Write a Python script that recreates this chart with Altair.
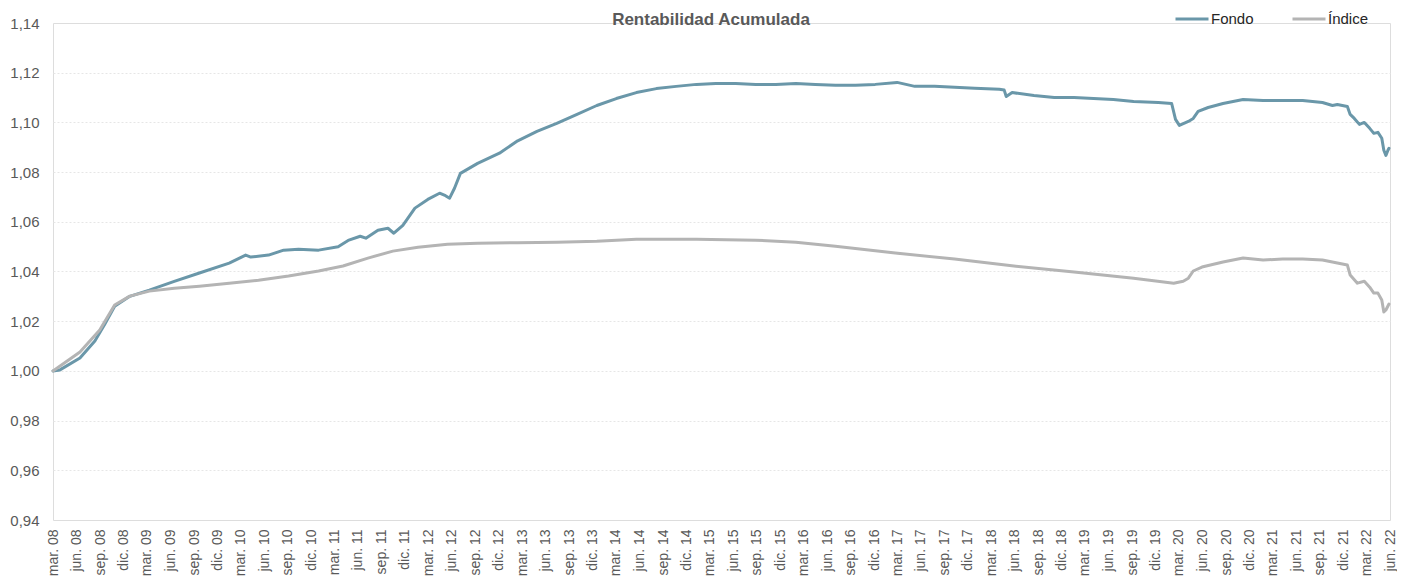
import altair as alt
import pandas as pd

# ---- data ----
fondo_dates = [
    "2008-03-01", "2008-03-28", "2008-06-14", "2008-08-11", "2008-09-19", "2008-10-27",
    "2008-12-25", "2009-03-11", "2009-06-16", "2009-09-22", "2010-01-16", "2010-03-21",
    "2010-04-10", "2010-06-18", "2010-08-16", "2010-10-13", "2010-12-30", "2011-03-16",
    "2011-04-24", "2011-06-10", "2011-07-02", "2011-08-18", "2011-09-26", "2011-10-19",
    "2011-11-23", "2012-01-09", "2012-02-28", "2012-04-14", "2012-05-07", "2012-05-23",
    "2012-06-11", "2012-07-04", "2012-09-09", "2012-12-03", "2013-02-12", "2013-04-28",
    "2013-07-14", "2013-10-01", "2013-12-17", "2014-03-03", "2014-05-20", "2014-08-06",
    "2014-10-22", "2015-01-09", "2015-03-25", "2015-06-11", "2015-08-28", "2015-11-14",
    "2016-01-31", "2016-04-16", "2016-07-03", "2016-09-19", "2016-12-05", "2017-02-28",
    "2017-05-08", "2017-07-24", "2017-10-10", "2017-12-27", "2018-04-02", "2018-04-21",
    "2018-04-29", "2018-05-22", "2018-08-15", "2018-11-02", "2019-01-18", "2019-04-04",
    "2019-06-20", "2019-09-07", "2019-12-12", "2020-02-02", "2020-02-17", "2020-03-03",
    "2020-04-07", "2020-04-26", "2020-05-15", "2020-06-23", "2020-08-20", "2020-11-06",
    "2021-01-23", "2021-04-09", "2021-06-26", "2021-09-11", "2021-10-20", "2021-11-08",
    "2021-12-17", "2021-12-28", "2022-01-13", "2022-02-02", "2022-02-21", "2022-03-14",
    "2022-03-30", "2022-04-15", "2022-04-30", "2022-05-08", "2022-05-16", "2022-05-24",
    "2022-05-28",
]
fondo_values = [
    1.0000, 1.0004, 1.0052, 1.0120, 1.0189, 1.0260,
    1.0300, 1.0325, 1.0360, 1.0394, 1.0434, 1.0466,
    1.0458, 1.0466, 1.0486, 1.0490, 1.0486, 1.0500,
    1.0525, 1.0542, 1.0534, 1.0566, 1.0574, 1.0554,
    1.0586, 1.0655, 1.0690, 1.0715, 1.0705, 1.0695,
    1.0735, 1.0795, 1.0835, 1.0876, 1.0926, 1.0964,
    1.0996, 1.1032, 1.1068, 1.1096, 1.1120, 1.1136,
    1.1145, 1.1153, 1.1157, 1.1157, 1.1153, 1.1153,
    1.1157, 1.1153, 1.1149, 1.1149, 1.1153, 1.1161,
    1.1145, 1.1145, 1.1141, 1.1137, 1.1133, 1.1130,
    1.1104, 1.1120, 1.1108, 1.1100, 1.1100, 1.1096,
    1.1092, 1.1084, 1.1080, 1.1076, 1.1012, 1.0988,
    1.1004, 1.1016, 1.1044, 1.1060, 1.1076, 1.1092,
    1.1088, 1.1088, 1.1088, 1.1080, 1.1068, 1.1072,
    1.1064, 1.1032, 1.1016, 1.0992, 1.1000, 1.0976,
    1.0956, 1.0960, 1.0936, 1.0888, 1.0867, 1.0888,
    1.0896,
]

indice_dates = [
    "2008-03-01", "2008-06-14", "2008-08-30", "2008-10-27", "2008-12-25", "2009-03-11",
    "2009-06-16", "2009-09-22", "2010-01-16", "2010-05-10", "2010-09-04", "2010-12-30",
    "2011-04-04", "2011-07-10", "2011-10-15", "2012-01-21", "2012-05-15", "2012-09-09",
    "2013-02-12", "2013-07-14", "2013-12-17", "2014-05-20", "2015-01-09", "2015-08-28",
    "2016-01-31", "2016-07-03", "2017-02-21", "2017-10-10", "2018-05-29", "2019-01-18",
    "2019-09-07", "2020-02-10", "2020-03-18", "2020-04-07", "2020-04-26", "2020-05-30",
    "2020-08-20", "2020-11-06", "2021-01-23", "2021-04-09", "2021-06-26", "2021-09-11",
    "2021-11-08", "2021-12-17", "2021-12-28", "2022-01-25", "2022-02-21", "2022-03-14",
    "2022-03-30", "2022-04-15", "2022-04-30", "2022-05-08", "2022-05-16", "2022-05-24",
    "2022-05-28",
]
indice_values = [
    1.0000, 1.0076, 1.0165, 1.0265, 1.0301, 1.0321,
    1.0333, 1.0341, 1.0353, 1.0365, 1.0382, 1.0402,
    1.0422, 1.0454, 1.0482, 1.0498, 1.0510, 1.0514,
    1.0516, 1.0518, 1.0522, 1.0530, 1.0530, 1.0526,
    1.0518, 1.0502, 1.0474, 1.0450, 1.0422, 1.0398,
    1.0373, 1.0353, 1.0361, 1.0373, 1.0402, 1.0418,
    1.0438, 1.0454, 1.0446, 1.0450, 1.0450, 1.0446,
    1.0434, 1.0426, 1.0386, 1.0353, 1.0361, 1.0337,
    1.0313, 1.0313, 1.0285, 1.0237, 1.0245, 1.0261,
    1.0269,
]

series_names = ["Fondo", "Índice"]
series_colors = ["#6A97A9", "#B4B4B4"]
y_ticks = [0.94, 0.96, 0.98, 1.00, 1.02, 1.04, 1.06, 1.08, 1.10, 1.12, 1.14]
months_es = ["ene.", "feb.", "mar.", "abr.", "may.", "jun.",
             "jul.", "ago.", "sep.", "oct.", "nov.", "dic."]
tick_dates = pd.date_range("2008-03-01", "2022-06-01", freq="3MS", tz="UTC")

title_text = "Rentabilidad Acumulada"

# ---- build table ----
df = pd.concat([
    pd.DataFrame({"fecha": fondo_dates, "valor": fondo_values, "serie": series_names[0]}),
    pd.DataFrame({"fecha": indice_dates, "valor": indice_values, "serie": series_names[1]}),
], ignore_index=True)

tick_ms = [int(t.value // 10**6) for t in tick_dates]
months_js = "[" + ",".join("'" + m + "'" for m in months_es) + "]"

FONT = "Liberation Sans"
GRAY = "#595959"

lines = alt.Chart(df).mark_line(strokeWidth=3, strokeJoin="round", strokeCap="round").encode(
    x=alt.X(
        "fecha:T",
        scale=alt.Scale(
            type="utc",
            domain=[alt.DateTime(year=2008, month=3, date=1, utc=True),
                    alt.DateTime(year=2022, month=6, date=1, utc=True)],
        ),
        axis=alt.Axis(
            title=None,
            values=tick_ms,
            labelExpr=months_js + "[utcmonth(datum.value)] + ' ' + utcFormat(datum.value, '%y')",
            labelAngle=270,
            labelFontSize=14,
            labelColor=GRAY,
            labelFont=FONT,
            labelPadding=9,
            labelOverlap=False,
            labelBound=False,
            labelFlush=False,
            ticks=False,
            domain=False,
            grid=False,
        ),
    ),
    y=alt.Y(
        "valor:Q",
        scale=alt.Scale(domain=[0.94, 1.14], nice=False, zero=False),
        axis=alt.Axis(
            title=None,
            values=y_ticks,
            labelExpr="replace(format(datum.value, '.2f'), '.', ',')",
            labelFontSize=15,
            labelColor=GRAY,
            labelFont=FONT,
            labelPadding=14,
            ticks=False,
            domain=False,
            grid=True,
            gridColor="#E6E6E6",
            gridDash=[2, 2],
            gridWidth=1,
            gridOpacity={"condition": {"test": "datum.value < 0.945 || datum.value > 1.135", "value": 0}, "value": 1},
        ),
    ),
    color=alt.Color(
        "serie:N",
        scale=alt.Scale(domain=series_names, range=series_colors),
        legend=alt.Legend(
            title=None,
            orient="none",
            direction="horizontal",
            legendX=1121,
            legendY=-22,
            symbolType="stroke",
            symbolSize=1089,
            symbolStrokeWidth=3,
            labelFontSize=15,
            labelFont=FONT,
            labelColor="#262626",
            labelOffset=1,
            columnPadding=32,
            padding=0,
        ),
    ),
    order=alt.Order("fecha:T"),
)

title = alt.Chart(pd.DataFrame({"t": [title_text]})).mark_text(
    font=FONT,
    fontSize=17,
    fontWeight="bold",
    color=GRAY,
    align="center",
    baseline="middle",
).encode(
    text="t:N",
    x=alt.value(658),
    y=alt.value(-3),
)

chart = alt.layer(lines, title).properties(
    width=1337,
    height=497,
    autosize=alt.AutoSizeParams(type="none"),
    padding={"left": 45, "top": 15, "right": 7, "bottom": 58},
).configure_view(stroke=None).configure(background="white")

chart.save("out.html", embed_options={"renderer": "svg", "actions": False})
